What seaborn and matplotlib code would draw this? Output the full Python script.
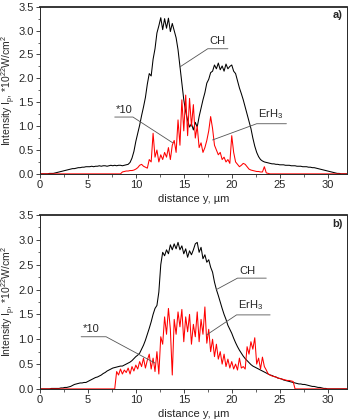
import numpy as np
import pandas as pd
import matplotlib
matplotlib.use("Agg")
import matplotlib.pyplot as plt
import seaborn as sns

sns.set_style("ticks")
plt.rcParams['font.family'] = ['Liberation Sans', 'DejaVu Sans']
plt.rcParams['mathtext.fontset'] = 'custom'
plt.rcParams['mathtext.rm'] = 'Liberation Sans'
plt.rcParams['mathtext.it'] = 'Liberation Sans'

# sampling step 0.2 um, from 0 to 32 um (rows of 10 = 2 um)
step = 0.2

ch_a = [
    0, 0, 0, 0, 0, 0.01, 0.01, 0.01, 0.02, 0.03,
    0.04, 0.05, 0.06, 0.07, 0.08, 0.09, 0.10, 0.11, 0.11, 0.12,
    0.13, 0.13, 0.14, 0.14, 0.15, 0.15, 0.15, 0.16, 0.15, 0.16,
    0.16, 0.17, 0.16, 0.17, 0.17, 0.16, 0.17, 0.18, 0.17, 0.18,
    0.17, 0.18, 0.18, 0.17, 0.18, 0.19, 0.20, 0.24, 0.33, 0.47,
    0.68, 0.85, 1.02, 1.22, 1.40, 1.60, 1.88, 2.10, 2.05, 2.40,
    2.62, 2.95, 3.10, 3.27, 3.02, 3.25, 3.05, 3.26, 2.98, 3.15,
    3.00, 2.85, 2.60, 2.25, 1.90, 1.55, 1.30, 1.12, 0.98, 1.05,
    0.92, 1.08, 0.98, 1.20, 1.38, 1.55, 1.70, 1.90, 1.98, 2.12,
    2.15, 2.28, 2.20, 2.32, 2.18, 2.26, 2.15, 2.30, 2.20, 2.25,
    2.28, 2.15, 2.10, 1.95, 1.80, 1.68, 1.55, 1.40, 1.25, 1.10,
    0.95, 0.75, 0.58, 0.45, 0.36, 0.30, 0.27, 0.25, 0.24, 0.23,
    0.22, 0.21, 0.21, 0.20, 0.20, 0.19, 0.19, 0.19, 0.18, 0.18,
    0.18, 0.17, 0.17, 0.17, 0.16, 0.16, 0.16, 0.15, 0.15, 0.15,
    0.14, 0.14, 0.13, 0.13, 0.12, 0.11, 0.10, 0.09, 0.08, 0.07,
    0.06, 0.05, 0.04, 0.03, 0.02, 0.01, 0.01, 0, 0, 0,
    0,
]

erh3_a = [
    0, 0, 0, 0, 0, 0, 0, 0, 0, 0,
    0, 0, 0, 0, 0, 0, 0, 0, 0, 0,
    0, 0, 0, 0, 0, 0, 0, 0, 0, 0,
    0, 0, 0, 0, 0, 0, 0, 0, 0, 0,
    0, 0, 0, 0.04, 0.05, 0.06, 0.06, 0.07, 0.07, 0.08,
    0.10, 0.13, 0.18, 0.20, 0.16, 0.14, 0.12, 0.30, 0.25, 0.85,
    0.35, 0.50, 0.25, 0.40, 0.30, 0.45, 0.35, 0.55, 0.30, 0.60,
    0.70, 0.45, 1.13, 0.60, 1.55, 0.90, 1.65, 0.80, 1.58, 1.00,
    1.45, 0.75, 1.00, 0.55, 0.65, 0.45, 0.55, 0.70, 0.90, 1.20,
    0.95, 0.60, 0.50, 0.40, 0.45, 0.30, 0.35, 0.25, 0.30, 0.22,
    0.80, 0.45, 0.25, 0.20, 0.15, 0.18, 0.22, 0.20, 0.15, 0.10,
    0.08, 0.07, 0.06, 0.05, 0.05, 0.04, 0.04, 0.15, 0.02, 0.01,
    0, 0, 0, 0, 0, 0, 0, 0, 0, 0,
    0, 0, 0, 0, 0, 0, 0, 0, 0, 0,
    0, 0, 0, 0, 0, 0, 0, 0, 0, 0,
    0, 0, 0, 0, 0, 0, 0, 0, 0, 0,
    0,
]

ch_b = [
    0, 0, 0, 0, 0, 0, 0.01, 0.01, 0.01, 0.01,
    0.01, 0.02, 0.02, 0.03, 0.03, 0.04, 0.05, 0.07, 0.09, 0.10,
    0.11, 0.12, 0.12, 0.13, 0.13, 0.15, 0.17, 0.19, 0.21, 0.23,
    0.24, 0.26, 0.28, 0.31, 0.33, 0.36, 0.38, 0.40, 0.42, 0.43,
    0.44, 0.45, 0.46, 0.46, 0.48, 0.50, 0.52, 0.54, 0.57, 0.61,
    0.65, 0.68, 0.72, 0.80, 0.88, 0.98, 1.10, 1.22, 1.35, 1.50,
    1.62, 1.68, 1.95, 2.50, 2.75, 2.68, 2.80, 2.72, 2.90, 2.80,
    2.92, 2.82, 2.95, 2.80, 2.88, 2.72, 2.82, 2.65, 2.78, 2.70,
    2.80, 2.92, 2.95, 2.75, 2.85, 2.62, 2.70, 2.55, 2.60, 2.45,
    2.35, 2.15, 2.00, 1.88, 1.75, 1.62, 1.50, 1.40, 1.28, 1.20,
    1.12, 1.02, 0.93, 0.85, 0.78, 0.72, 0.66, 0.61, 0.57, 0.53,
    0.49, 0.46, 0.44, 0.42, 0.40, 0.38, 0.36, 0.34, 0.32, 0.30,
    0.28, 0.27, 0.25, 0.24, 0.22, 0.21, 0.20, 0.18, 0.17, 0.16,
    0.15, 0.14, 0.13, 0.12, 0.11, 0.10, 0.10, 0.09, 0.09, 0.08,
    0.07, 0.06, 0.05, 0.05, 0.04, 0.03, 0.03, 0.02, 0.01, 0.01,
    0, 0, 0, 0, 0, 0, 0, 0, 0, 0,
    0,
]

erh3_b = [
    0, 0, 0, 0, 0, 0, 0, 0, 0, 0,
    0, 0, 0, 0, 0, 0, 0, 0, 0, 0,
    0, 0, 0, 0, 0, 0, 0, 0, 0, 0,
    0, 0, 0, 0, 0, 0, 0, 0, 0, 0,
    0.35, 0.28, 0.40, 0.30, 0.38, 0.33, 0.42, 0.30, 0.45, 0.36,
    0.48, 0.40, 0.55, 0.45, 0.62, 0.42, 0.58, 0.70, 0.40, 0.62,
    0.35, 0.75, 0.30, 1.05, 0.90, 1.45, 1.10, 1.62, 1.20, 0.28,
    1.40, 1.10, 1.55, 1.25, 1.60, 0.95, 1.45, 1.15, 1.50, 0.90,
    1.30, 1.05, 1.55, 0.95, 1.40, 1.10, 1.65, 0.92, 1.20, 0.75,
    1.00, 0.65, 0.90, 0.60, 0.75, 0.50, 0.70, 0.45, 0.60, 0.42,
    0.55, 0.40, 0.50, 0.38, 0.62, 0.42, 0.45, 0.40, 0.85, 0.70,
    0.95, 0.80, 1.03, 0.50, 0.62, 0.40, 0.64, 0.45, 0.38, 0.30,
    0.28, 0.26, 0.25, 0.24, 0.22, 0.21, 0.20, 0.19, 0.18, 0.17,
    0.17, 0.16, 0.15, 0, 0, 0, 0, 0, 0, 0,
    0, 0, 0, 0, 0, 0, 0, 0, 0, 0,
    0, 0, 0, 0, 0, 0, 0, 0, 0, 0,
    0,
]

panel_tags = ['a)', 'b)']
ylabel = 'Intensity I$_p$, *10$^{22}$W/cm$^2$'
xlabel = 'distance y, µm'


def frame(ch, erh3):
    x = np.arange(len(ch)) * step
    return pd.DataFrame({'y': x, 'CH': ch, 'ErH3': erh3})


def leader(ax, text, tip, elbow, end, fs=8):
    # label line: tip -> elbow -> horizontal to end, text sits over the horizontal part
    ax.plot([tip[0], elbow[0], end[0]], [tip[1], elbow[1], elbow[1]],
            color='#555555', lw=0.6, zorder=5)
    x0 = min(elbow[0], end[0])
    ax.text(x0 + 0.15, elbow[1] + 0.05, text, fontsize=fs, ha='left', va='bottom')


fig = plt.figure(figsize=(3.5, 4.2), dpi=100)
ax_a = fig.add_axes([0.114, 0.586, 0.877, 0.398])
ax_b = fig.add_axes([0.114, 0.074, 0.877, 0.414])

for ax, df, tag in [(ax_a, frame(ch_a, erh3_a), panel_tags[0]),
                    (ax_b, frame(ch_b, erh3_b), panel_tags[1])]:
    sns.lineplot(data=df, x='y', y='CH', ax=ax, color='black', lw=0.75)
    sns.lineplot(data=df, x='y', y='ErH3', ax=ax, color='#ff0000', lw=0.75)
    ax.set_xlim(0, 32)
    ax.set_ylim(0, 3.5)
    ax.set_xticks(np.arange(0, 31, 5))
    ax.set_xticks(np.arange(0, 32.1, 2.5), minor=True)
    ax.set_yticks(np.arange(0, 3.51, 0.5))
    ax.set_yticks(np.arange(0, 3.51, 0.25), minor=True)
    ax.set_yticklabels([f'{v:.1f}' for v in np.arange(0, 3.51, 0.5)])
    ax.tick_params(which='major', length=3, width=0.6, labelsize=8, pad=1.5)
    ax.tick_params(which='minor', length=1.8, width=0.5)
    ax.set_xlabel(xlabel, fontsize=8, labelpad=3)
    ax.set_ylabel(ylabel, fontsize=7.5, va='center')
    ax.yaxis.set_label_coords(-0.1, 0.5)
    for s in ax.spines.values():
        s.set_linewidth(0.7)
    ax.spines['top'].set_linewidth(1.3)
    ax.text(0.985, 0.95, tag, transform=ax.transAxes, ha='right', va='center',
            fontsize=8, fontweight='bold')

leader(ax_a, 'CH', (14.6, 2.24), (17.5, 2.62), (19.6, 2.62))
leader(ax_a, 'ErH$_3$', (18.0, 0.71), (22.6, 1.05), (25.7, 1.05))
leader(ax_a, '*10', (13.85, 0.65), (9.7, 1.19), (7.8, 1.19))

leader(ax_b, 'CH', (18.4, 2.0), (20.6, 2.23), (23.6, 2.23))
leader(ax_b, 'ErH$_3$', (17.4, 1.09), (20.5, 1.49), (24.0, 1.49))
leader(ax_b, '*10', (12.0, 0.52), (6.9, 1.05), (4.3, 1.05))

fig.savefig('out.png', dpi=100)
